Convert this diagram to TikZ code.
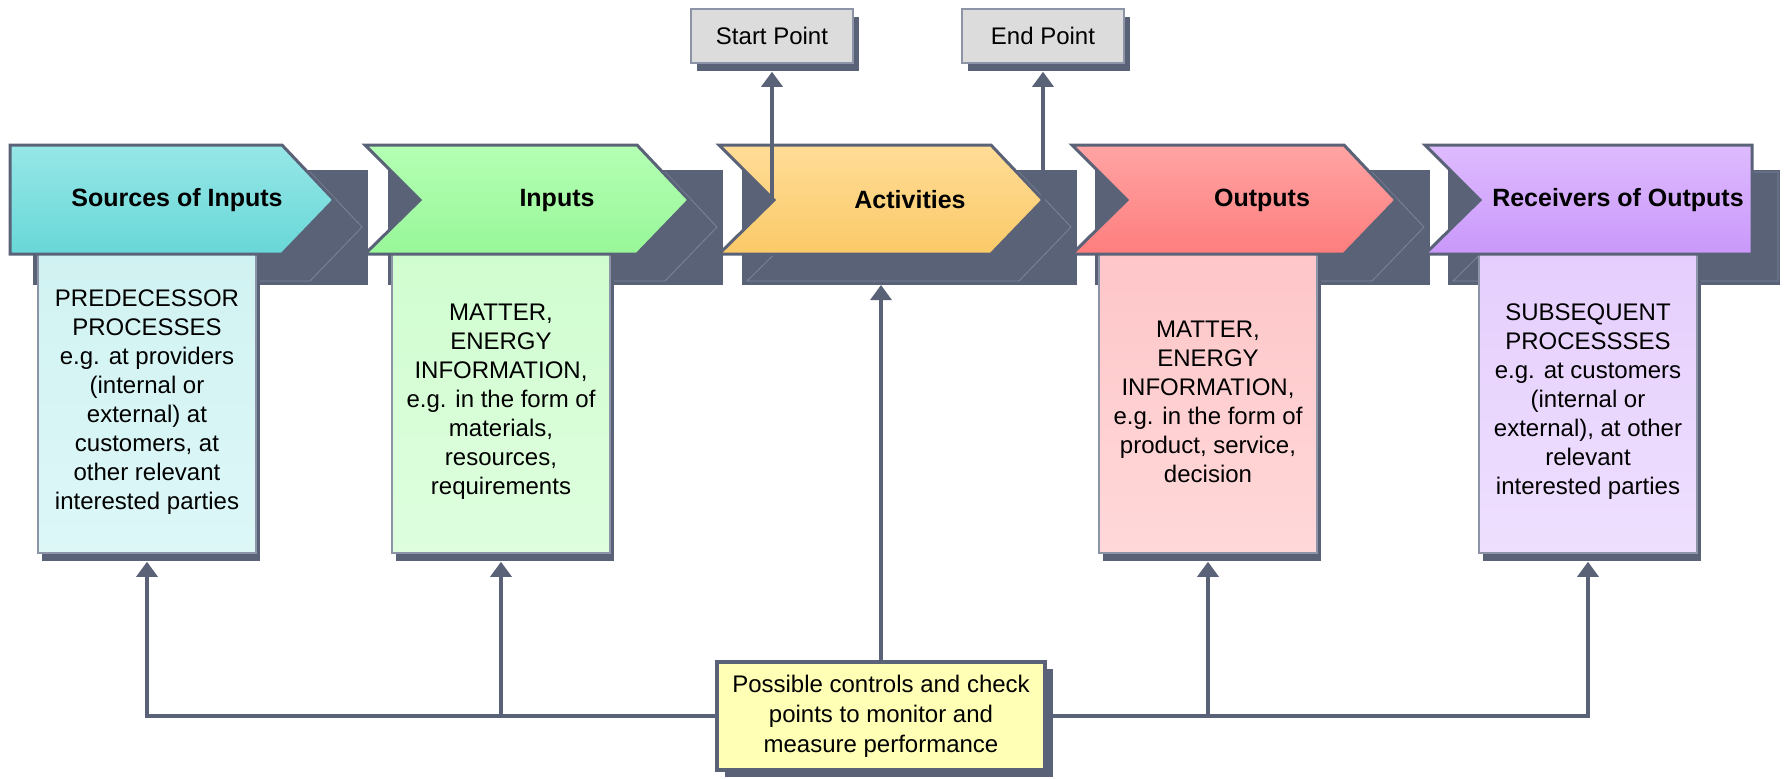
\documentclass[tikz,border=0pt]{standalone}
\usepackage{fontspec}
\setmainfont{Liberation Sans}
\usetikzlibrary{arrows.meta,shadows}
\definecolor{slate}{RGB}{90,98,120}
\definecolor{ghost}{RGB}{125,133,155}
\definecolor{boxline}{RGB}{142,148,168}
\definecolor{srcTop}{HTML}{97E7E7}\definecolor{srcBot}{HTML}{68D7D7}
\definecolor{inTop}{HTML}{B4FFB4}\definecolor{inBot}{HTML}{98F798}
\definecolor{actTop}{HTML}{FFDC97}\definecolor{actBot}{HTML}{FBCA68}
\definecolor{outTop}{HTML}{FFA4A4}\definecolor{outBot}{HTML}{FE7D7D}
\definecolor{recTop}{HTML}{DEBBFF}\definecolor{recBot}{HTML}{C998FA}
\definecolor{srcBoxT}{HTML}{D1F2F2}\definecolor{srcBoxB}{HTML}{DDF7F7}
\definecolor{inBoxT}{HTML}{D0FDD0}\definecolor{inBoxB}{HTML}{DEFEDE}
\definecolor{outBoxT}{HTML}{FEC6C8}\definecolor{outBoxB}{HTML}{FFD8D9}
\definecolor{recBoxT}{HTML}{E5CEFD}\definecolor{recBoxB}{HTML}{EEDFFE}
\definecolor{ctrlFill}{HTML}{FFFFB5}
\definecolor{pointFill}{HTML}{DCDCDC}
\begin{document}
\begin{tikzpicture}[x=0.5pt,y=-0.5pt,
  conn/.style={draw=slate,line width=1.55pt},
  tipup/.style={-{Triangle[width=10.5pt,length=7.5pt]}},
  chev/.style={draw=slate,line width=1.5pt,line join=miter},
  chevshadow/.style={fill=slate},
  ghostline/.style={draw=ghost,line width=0.4pt},
  title/.style={font=\bfseries\fontsize{12.5}{15}\selectfont,inner sep=0pt},
  bodybox/.style={draw=boxline,line width=0.75pt,minimum width=109pt,minimum height=151pt,
    inner sep=0pt,align=center,font=\fontsize{12}{14.5}\selectfont,
    drop shadow={shadow xshift=2pt,shadow yshift=-4pt,opacity=1,fill=slate}},
  pointbox/.style={draw=boxline,line width=0.75pt,fill=pointFill,minimum width=81pt,minimum height=27pt,
    inner sep=0pt,font=\fontsize{12}{14.5}\selectfont,
    drop shadow={shadow xshift=3pt,shadow yshift=-4pt,opacity=1,fill=slate}},
  ctrlbox/.style={draw=slate,line width=1.6pt,fill=ctrlFill,minimum width=164pt,minimum height=54pt,
    inner sep=0pt,align=center,font=\fontsize{12}{15}\selectfont,
    drop shadow={shadow xshift=4pt,shadow yshift=-3.5pt,opacity=1,fill=slate}}
]
\useasboundingbox (0,0) rectangle (1789,778);

% chevron shadows
\foreach \L/\R in {33/368,388/723,742/1077,1095/1430,1448/1780}{
  \fill[chevshadow] (\L,170) rectangle (\R,285);
}
\begin{scope}
  \clip (33,170) rectangle (368,285);
  \draw[ghostline] (38,172)--(310,172)--(362,227)--(310,281)--(38,281)--cycle;
\end{scope}
\begin{scope}
  \clip (388,170) rectangle (723,285);
  \draw[ghostline] (393,172)--(665,172)--(717,227)--(665,281)--(393,281)--(448,227)--cycle;
\end{scope}
\begin{scope}
  \clip (742,170) rectangle (1077,285);
  \draw[ghostline] (747,172)--(1019,172)--(1071,227)--(1019,281)--(747,281)--(802,227)--cycle;
\end{scope}
\begin{scope}
  \clip (1095,170) rectangle (1430,285);
  \draw[ghostline] (1100,172)--(1372,172)--(1424,227)--(1372,281)--(1100,281)--(1155,227)--cycle;
\end{scope}
\begin{scope}
  \clip (1448,170) rectangle (1780,285);
  \draw[ghostline] (1453,172)--(1778,172)--(1778,281)--(1453,281)--(1508,227)--cycle;
\end{scope}

% text boxes
\node[bodybox,top color=srcBoxT,bottom color=srcBoxB] (srcbox) at (147,402)
  {PREDECESSOR\\PROCESSES\\e.g. at providers\\(internal or\\external) at\\customers, at\\other relevant\\interested parties};
\node[bodybox,top color=inBoxT,bottom color=inBoxB] (inbox) at (501,402)
  {MATTER,\\ENERGY\\INFORMATION,\\e.g. in the form of\\materials,\\resources,\\requirements};
\node[bodybox,top color=outBoxT,bottom color=outBoxB] (outbox) at (1208,402)
  {MATTER,\\ENERGY\\INFORMATION,\\e.g. in the form of\\product, service,\\decision};
\node[bodybox,top color=recBoxT,bottom color=recBoxB] (recbox) at (1588,402)
  {SUBSEQUENT\\PROCESSSES\\e.g. at customers\\(internal or\\external), at other\\relevant\\interested parties};

% chevrons
\path[chev,top color=srcTop,bottom color=srcBot]
  (10,145)--(282,145)--(334,200)--(282,254)--(10,254)--cycle;
\path[chev,top color=inTop,bottom color=inBot]
  (365,145)--(637,145)--(689,200)--(637,254)--(365,254)--(420,200)--cycle;
\path[chev,top color=actTop,bottom color=actBot]
  (719,145)--(991,145)--(1043,200)--(991,254)--(719,254)--(774,200)--cycle;
\path[chev,top color=outTop,bottom color=outBot]
  (1072,145)--(1344,145)--(1396,200)--(1344,254)--(1072,254)--(1127,200)--cycle;
\path[chev,top color=recTop,bottom color=recBot]
  (1425,145)--(1752,145)--(1752,254)--(1425,254)--(1480,200)--cycle;

% titles
\node[title] (srcT) at (177,200) {Sources of Inputs};
\node[title] (inT) at (557,200) {Inputs};
\node[title] (actT) at (910,200) {Activities};
\node[title] (outT) at (1262,200) {Outputs};
\node[title] (recT) at (1618,200) {Receivers of Outputs};

% start / end points
\node[pointbox] (start) at (772,36) {Start Point};
\node[pointbox] (end) at (1043,36) {End Point};

% controls
\node[ctrlbox] (ctrl) at (881,716) {Possible controls and check\\points to monitor and\\measure performance};

% connectors
\coordinate (actN) at (772,200);
\coordinate (actTip) at (1043,200);
\coordinate (actS) at (881,285);
\draw[conn,tipup] (actN) -- ([yshift=-4pt]start.south);
\draw[conn,tipup] (actTip) -- ([yshift=-4pt]end.south);
\draw[conn,tipup] (ctrl.north) -- (actS);
\draw[conn,tipup] (ctrl.west) -| ([yshift=-4pt]srcbox.south);
\draw[conn,tipup] (ctrl.west -| inbox.south) -- ([yshift=-4pt]inbox.south);
\draw[conn,tipup] (ctrl.east) -| ([yshift=-4pt]recbox.south);
\draw[conn,tipup] (ctrl.east -| outbox.south) -- ([yshift=-4pt]outbox.south);
\end{tikzpicture}
\end{document}
